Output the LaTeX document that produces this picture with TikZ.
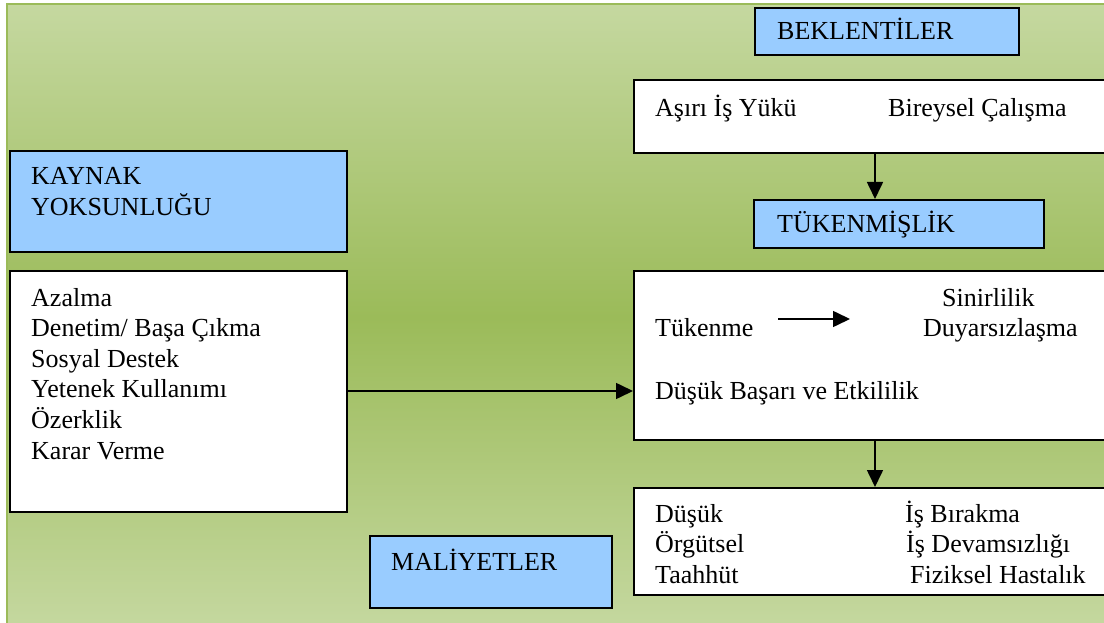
\documentclass[tikz,border=0pt]{standalone}
\usepackage{fontspec}
\setmainfont{Liberation Serif}
\usetikzlibrary{arrows.meta}
\definecolor{bgedge}{HTML}{C5D8A0}
\definecolor{bgmid}{HTML}{9BBB59}
\definecolor{framegreen}{HTML}{9BBB59}
\definecolor{boxblue}{HTML}{99CCFF}
\tikzset{
  panel/.style={draw=black, line width=1.6pt, inner sep=0pt, anchor=north west},
  titlebox/.style={panel, fill=boxblue},
  listbox/.style={panel, fill=white},
  txt/.style={inner sep=0pt, anchor=base west, font=\fontsize{26}{30}\selectfont},
  arr/.style={line width=1.6pt, -{Triangle[length=17pt,width=16pt]}}
}
\begin{document}
\begin{tikzpicture}[x=1pt, y=-1pt]
\useasboundingbox (0,0) rectangle (1104,623);
\clip (0,0) rectangle (1104,623);

% shaded panel with its frame
\shade[top color=bgedge, bottom color=bgedge, middle color=bgmid] (7,4) rectangle (1112,630);
\draw[framegreen, line width=2.6pt] (7,4) rectangle (1112,630);

% boxes
\node[titlebox, minimum width=264pt, minimum height=47pt] (bek) at (754,7) {};
\node[listbox, minimum width=480pt, minimum height=73pt] (yuk) at (633,79) {};
\node[titlebox, minimum width=290pt, minimum height=48pt] (tuk) at (753,199) {};
\node[titlebox, minimum width=337pt, minimum height=101pt] (kay) at (9,150) {};
\node[listbox, minimum width=337pt, minimum height=241pt] (res) at (9,270) {};
\node[listbox, minimum width=480pt, minimum height=169pt] (burn) at (633,270) {};
\node[titlebox, minimum width=242pt, minimum height=72pt] (mal) at (369,535) {};
\node[listbox, minimum width=480pt, minimum height=107pt] (cost) at (633,487) {};

% texts
\node[txt] (tbek) at (777,40) {BEKLENTİLER};
\node[txt] (ty1) at (655,117) {Aşırı İş Yükü};
\node[txt] (ty2) at (888,117) {Bireysel Çalışma};
\node[txt] (ttuk) at (777,233) {TÜKENMİŞLİK};
\node[txt] (tk1) at (31,185) {KAYNAK};
\node[txt] (tk2) at (31,215) {YOKSUNLUĞU};
\node[txt] (r1) at (31,306) {Azalma};
\node[txt] (r2) at (31,336) {Denetim/ Başa Çıkma};
\node[txt] (r3) at (31,367) {Sosyal Destek};
\node[txt] (r4) at (31,397) {Yetenek Kullanımı};
\node[txt] (r5) at (31,428) {Özerklik};
\node[txt] (r6) at (31,459) {Karar Verme};
\node[txt] (b1) at (655,336) {Tükenme};
\node[txt] (b2) at (942,306) {Sinirlilik};
\node[txt] (b3) at (923,336) {Duyarsızlaşma};
\node[txt] (b4) at (655,399) {Düşük Başarı ve Etkililik};
\node[txt] (tmal) at (391,570) {MALİYETLER};
\node[txt] (c1) at (655,522) {Düşük};
\node[txt] (c2) at (655,552) {Örgütsel};
\node[txt] (c3) at (655,583) {Taahhüt};
\node[txt] (c4) at (905,522) {İş Bırakma};
\node[txt] (c5) at (906,552) {İş Devamsızlığı};
\node[txt] (c6) at (910,583) {Fiziksel Hastalık};

% connectors
\coordinate (cx) at (875,0);
\coordinate (cy) at (0,391);
\coordinate (ia) at (778,319);
\coordinate (ib) at (850,319);
\draw[arr] (yuk.south -| cx) -- (tuk.north -| cx);
\draw[arr] (res.east |- cy) -- (burn.west |- cy);
\draw[arr] (burn.south -| cx) -- (cost.north -| cx);
\draw[arr] (ia) -- (ib);
\end{tikzpicture}
\end{document}
